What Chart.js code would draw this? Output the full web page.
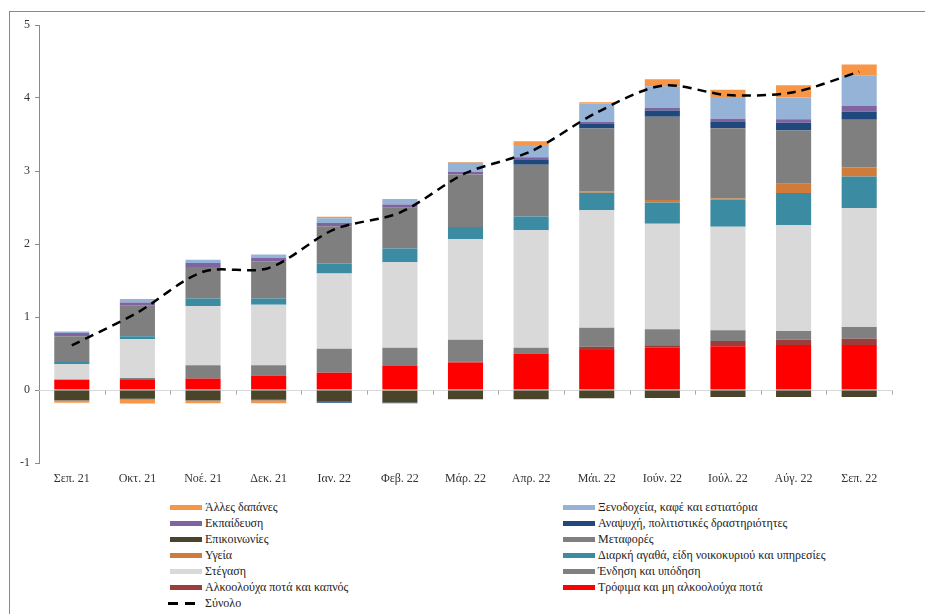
<!DOCTYPE html>
<html><head><meta charset="utf-8">
<script src="https://cdn.jsdelivr.net/npm/chart.js@4.4.0/dist/chart.umd.min.js"></script>
<style>
html,body{margin:0;padding:0;background:#fff;}
#wrap{position:relative;width:925px;height:614px;overflow:hidden;font-family:"Liberation Serif","DejaVu Serif",serif;}
#frame{position:absolute;left:9px;top:11px;width:1000px;height:700px;border-top:1px solid #8a8a8a;border-left:1px solid #8a8a8a;}
#c{position:absolute;left:0;top:0;}
.li{position:absolute;font-size:12px;color:#222;white-space:nowrap;line-height:14px;}
.sw{position:absolute;}
</style></head>
<body>
<div id="wrap">
<div id="frame"></div>
<canvas id="c" width="925" height="500"></canvas>
<div id="legend"></div>
</div>
<script>
const months = ['Σεπ. 21','Οκτ. 21','Νοέ. 21','Δεκ. 21','Ιαν. 22','Φεβ. 22','Μάρ. 22','Απρ. 22','Μάι. 22','Ιούν. 22','Ιούλ. 22','Αύγ. 22','Σεπ. 22'];
const yTicks = [-1,0,1,2,3,4,5];

const food          = [0.14, 0.14, 0.155, 0.20, 0.238, 0.33, 0.378, 0.50, 0.547, 0.58, 0.598, 0.616, 0.616];
const alcohol       = [0, 0.01, 0.005, 0, 0, 0, 0.01, 0, 0.046, 0.032, 0.073, 0.073, 0.087];
const clothing      = [0.005, 0.015, 0.18, 0.138, 0.328, 0.25, 0.30, 0.08, 0.26, 0.22, 0.146, 0.118, 0.16];
const housing       = [0.21, 0.53, 0.81, 0.83, 1.03, 1.17, 1.38, 1.61, 1.61, 1.445, 1.42, 1.45, 1.63];
const durables      = [0.03, 0.04, 0.105, 0.087, 0.137, 0.187, 0.165, 0.187, 0.24, 0.29, 0.37, 0.44, 0.43];
const health        = [0, 0, 0, 0, 0, -0.01, 0, 0, 0.02, 0.036, 0.018, 0.128, 0.128];
const transport     = [0.35, 0.42, 0.43, 0.51, 0.51, 0.56, 0.72, 0.71, 0.86, 1.14, 0.96, 0.73, 0.65];
const communications= [-0.14, -0.12, -0.14, -0.135, -0.16, -0.16, -0.125, -0.125, -0.113, -0.11, -0.095, -0.095, -0.095];
const recreation    = [-0.005, -0.005, -0.005, -0.005, -0.015, -0.01, 0, 0.064, 0.06, 0.087, 0.087, 0.105, 0.11];
const education     = [0.045, 0.045, 0.055, 0.045, 0.045, 0.045, 0.036, 0.036, 0.032, 0.032, 0.045, 0.05, 0.078];
const hotels        = [0.02, 0.045, 0.045, 0.045, 0.065, 0.073, 0.125, 0.17, 0.25, 0.30, 0.296, 0.296, 0.415];
const other         = [-0.03, -0.06, -0.035, -0.04, 0.02, 0, 0.01, 0.05, 0.018, 0.096, 0.10, 0.17, 0.155];
const total         = [0.61, 1.06, 1.62, 1.67, 2.20, 2.43, 2.97, 3.27, 3.80, 4.17, 4.04, 4.08, 4.36];

const barSeries = [
  ['Τρόφιμα και μη αλκοολούχα ποτά', food, '#FF0000'],
  ['Αλκοολούχα ποτά και καπνός', alcohol, '#9C3D3B'],
  ['Ένδηση και υπόδηση', clothing, '#808080'],
  ['Στέγαση', housing, '#D9D9D9'],
  ['Διαρκή αγαθά, είδη νοικοκυριού και υπηρεσίες', durables, '#3B8CA3'],
  ['Υγεία', health, '#D07B3A'],
  ['Μεταφορές', transport, '#7F7F7F'],
  ['Επικοινωνίες', communications, '#4A452A'],
  ['Αναψυχή, πολιτιστικές δραστηριότητες', recreation, '#1F497D'],
  ['Εκπαίδευση', education, '#8064A2'],
  ['Ξενοδοχεία, καφέ και εστιατόρια', hotels, '#95B3D7'],
  ['Άλλες δαπάνες', other, '#F79646']
];
const totalLabel = 'Σύνολο';

const FONT = '"Liberation Serif","DejaVu Serif",serif';

const datasets = barSeries.map(([label, data, color]) => ({
  type: 'bar', label, data, backgroundColor: color, borderWidth: 0,
  barPercentage: 0.535, categoryPercentage: 1.0, order: 1, stack: 'bars'
}));
datasets.push({
  type: 'line', label: totalLabel, data: total, borderColor: '#000', borderWidth: 2.5,
  borderDash: [9, 6], pointRadius: 0, tension: 0.3, fill: false, order: 0, stack: 'line'
});

const zeroLine = {
  id: 'zeroLine',
  beforeDatasetsDraw(c) {
    const {ctx, chartArea, scales: {x, y}} = c;
    const y0 = Math.round(y.getPixelForValue(0)) + 0.5;
    ctx.save();
    ctx.lineWidth = 1;
    ctx.strokeStyle = '#d9d9d9';
    ctx.beginPath();
    ctx.moveTo(chartArea.left, y0);
    ctx.lineTo(chartArea.right, y0);
    ctx.stroke();
    ctx.strokeStyle = '#a6a6a6';
    ctx.beginPath();
    for (let i = 1; i <= months.length; i++) {
      const px = Math.round((x.getPixelForValue(i - 1) + x.getPixelForValue(i)) / 2) + 0.5;
      ctx.moveTo(px, y0);
      ctx.lineTo(px, y0 + 4);
    }
    ctx.stroke();
    ctx.restore();
  }
};

new Chart(document.getElementById('c'), {
  data: { labels: months, datasets },
  plugins: [zeroLine],
  options: {
    responsive: false, animation: false,
    layout: { padding: { left: 0, right: 33, top: 25, bottom: 0 } },
    plugins: { legend: { display: false }, tooltip: { enabled: false } },
    scales: {
      x: {
        stacked: true,
        grid: { display: false }, border: { display: false },
        ticks: { font: { family: FONT, size: 12 }, color: '#333', padding: 1, maxRotation: 0, autoSkip: false },
        afterFit(s) { s.height = 37; }
      },
      y: {
        stacked: true, min: yTicks[0], max: yTicks[yTicks.length - 1],
        afterBuildTicks(s) { s.ticks = yTicks.map(v => ({ value: v })); },
        ticks: { font: { family: FONT, size: 12 }, color: '#333', padding: 5 },
        grid: { drawOnChartArea: false, drawTicks: true, tickLength: 4, color: '#8a8a8a' },
        border: { display: true, color: '#8a8a8a' },
        afterFit(s) { s.width = 39; }
      }
    }
  }
});

// HTML legend (two columns, reversed order, row-wise)
const items = barSeries.slice().reverse().map(([label, , color]) => ({ label, color }));
items.push({ label: totalLabel, line: true });
const leg = document.getElementById('legend');
items.forEach((it, i) => {
  const col = i % 2, row = Math.floor(i / 2);
  const cy = 507.5 + row * 16;
  const swx = col ? 563 : 170, tx = col ? 598 : 205;
  if (it.line) {
    [[168, 10], [185, 10]].forEach(([lx, w]) => {
      const d = document.createElement('div');
      d.className = 'sw';
      d.style.cssText = `left:${lx}px;top:${cy - 1.5}px;width:${w}px;height:3px;background:#000;`;
      leg.appendChild(d);
    });
  } else {
    const d = document.createElement('div');
    d.className = 'sw';
    d.style.cssText = `left:${swx}px;top:${cy - 2.5}px;width:32px;height:5px;background:${it.color};`;
    leg.appendChild(d);
  }
  const t = document.createElement('div');
  t.className = 'li';
  t.textContent = it.label;
  t.style.left = tx + 'px';
  t.style.top = (cy - 7.5) + 'px';
  leg.appendChild(t);
});
</script>
</body></html>
